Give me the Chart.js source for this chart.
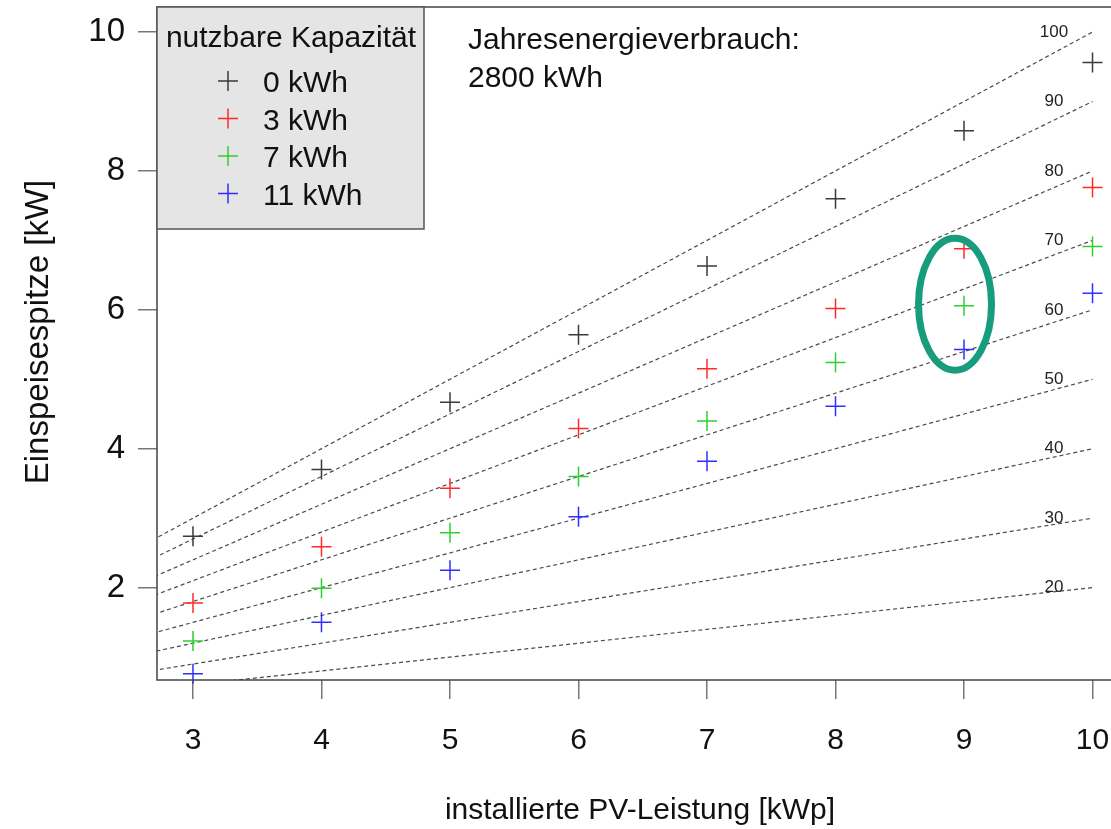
<!DOCTYPE html>
<html>
<head>
<meta charset="utf-8">
<script src="https://cdn.jsdelivr.net/npm/chart.js@4/dist/chart.umd.min.js"></script>
<style>
  html, body { margin: 0; padding: 0; background: #ffffff; overflow: hidden; }
  #wrap { width: 1111px; height: 829px; overflow: hidden; position: relative; }
  #box { width: 1140px; height: 829px; position: absolute; left: 0; top: 0; }
</style>
</head>
<body>
<div id="wrap"><div id="box"><canvas id="c"></canvas></div></div>
<script>
// ---- data ----
const pvPower = [3, 4, 5, 6, 7, 8, 9, 10];             // installierte PV-Leistung [kWp]
const xTicks = [3, 4, 5, 6, 7, 8, 9, 10];
const yTicks = [2, 4, 6, 8, 10];
const seriesNames = ['0 kWh', '3 kWh', '7 kWh', '11 kWh'];
const peak0kWh  = [2.74, 3.70, 4.67, 5.64, 6.63, 7.60, 8.58, 9.56];
const peak3kWh  = [1.78, 2.59, 3.43, 4.29, 5.15, 6.02, 6.88, 7.76];
const peak7kWh  = [1.23, 1.99, 2.79, 3.60, 4.40, 5.24, 6.06, 6.91];
const peak11kWh = [0.76, 1.50, 2.25, 3.02, 3.82, 4.61, 5.43, 6.24];
const percentLines = [20, 30, 40, 50, 60, 70, 80, 90, 100];  // % of installed power
const legendTitle = 'nutzbare Kapazität';
const noteLines = ['Jahresenergieverbrauch:', '2800 kWh'];
const xTitle = 'installierte PV-Leistung [kWp]';
const yTitle = 'Einspeisespitze [kW]';

const seriesColors = ['#3a3a3a', '#ff2b2b', '#2fcf2f', '#2f2fff'];
const FONT = '"Liberation Sans", Arial, Helvetica, sans-serif';
const PLOT_TOP = 7;

const peakSeries = [peak0kWh, peak3kWh, peak7kWh, peak11kWh];

const scatterSets = peakSeries.map((arr, i) => ({
  label: seriesNames[i],
  data: pvPower.map((x, j) => ({ x: x, y: arr[j] })),
  showLine: false,
  pointStyle: 'cross',
  pointRadius: 10,
  pointHoverRadius: 10,
  borderColor: seriesColors[i],
  backgroundColor: seriesColors[i],
  borderWidth: 1.5,
  clip: false,
  order: 0
}));

const lineSets = percentLines.map(p => ({
  label: p + '%',
  data: [{ x: 0, y: 0 }, { x: 10, y: p / 10 }],
  showLine: true,
  pointRadius: 0,
  borderColor: '#4a4a4a',
  borderWidth: 1.2,
  borderDash: [4, 3],
  fill: false,
  order: 1
}));

const fixTop = {
  id: 'fixTop',
  afterLayout(chart) {
    const a = chart.chartArea;
    const ys = chart.scales.y;
    a.top = PLOT_TOP;
    a.height = a.bottom - a.top;
    ys.top = PLOT_TOP;
    ys.height = ys.bottom - ys.top;
    ys.configure();
  }
};

const decor = {
  id: 'decor',
  afterDatasetsDraw(chart) {
    const ctx = chart.ctx;
    const a = chart.chartArea;
    const xs = chart.scales.x, ys = chart.scales.y;
    ctx.save();

    // percent labels
    ctx.fillStyle = '#222';
    ctx.font = '17px ' + FONT;
    ctx.textAlign = 'center';
    ctx.textBaseline = 'middle';
    percentLines.forEach(p => {
      ctx.fillText(String(p), xs.getPixelForValue(9.7), ys.getPixelForValue(p / 10));
    });

    // frame
    ctx.strokeStyle = '#444';
    ctx.lineWidth = 1.5;
    ctx.strokeRect(a.left, a.top, a.right - a.left, a.bottom - a.top);

    // legend box
    const lx = a.left, ly = a.top, lw = 267, lh = 222;
    ctx.fillStyle = '#e5e5e5';
    ctx.fillRect(lx, ly, lw, lh);
    ctx.strokeStyle = '#555';
    ctx.lineWidth = 1.5;
    ctx.strokeRect(lx, ly, lw, lh);
    ctx.fillStyle = '#111';
    ctx.font = '30px ' + FONT;
    ctx.textAlign = 'center';
    ctx.textBaseline = 'alphabetic';
    ctx.fillText(legendTitle, lx + 134, ly + 40);
    ctx.textAlign = 'left';
    seriesNames.forEach((name, i) => {
      const by = ly + 85 + i * 37.5;
      const cy = by - 11;
      const cx = lx + 71;
      ctx.strokeStyle = seriesColors[i];
      ctx.lineWidth = 1.5;
      ctx.beginPath();
      ctx.moveTo(cx - 10, cy); ctx.lineTo(cx + 10, cy);
      ctx.moveTo(cx, cy - 10); ctx.lineTo(cx, cy + 10);
      ctx.stroke();
      ctx.fillStyle = '#111';
      ctx.fillText(name, lx + 106, by);
    });

    // note text
    ctx.fillStyle = '#111';
    ctx.font = '30px ' + FONT;
    ctx.textAlign = 'left';
    ctx.textBaseline = 'alphabetic';
    const nx = xs.getPixelForValue(5.14);
    const ny = ys.getPixelForValue(9.75);
    noteLines.forEach((t, i) => ctx.fillText(t, nx, ny + i * 38));

    // highlight ellipse (data coordinates)
    const ecx = 8.93, ecy = 6.08, erx = 0.284, ery = 0.95;
    const ex = xs.getPixelForValue(ecx), ey = ys.getPixelForValue(ecy);
    const rx = Math.abs(xs.getPixelForValue(ecx + erx) - ex);
    const ry = Math.abs(ys.getPixelForValue(ecy + ery) - ey);
    ctx.strokeStyle = '#179c7d';
    ctx.lineWidth = 7;
    ctx.beginPath();
    ctx.ellipse(ex, ey, rx, ry, 0, 0, Math.PI * 2);
    ctx.stroke();

    // axis titles
    ctx.fillStyle = '#111';
    ctx.font = '30px ' + FONT;
    ctx.textAlign = 'center';
    ctx.textBaseline = 'alphabetic';
    ctx.fillText(xTitle, 640, 819);
    ctx.font = '33px ' + FONT;
    ctx.translate(48, 332);
    ctx.rotate(-Math.PI / 2);
    ctx.fillText(yTitle, 0, 0);
    ctx.restore();
  }
};

new Chart(document.getElementById('c'), {
  type: 'scatter',
  data: { datasets: [...lineSets, ...scatterSets] },
  options: {
    responsive: true,
    maintainAspectRatio: false,
    animation: false,
    events: [],
    layout: { padding: { left: 0, top: 7, right: 11, bottom: 0 } },
    plugins: { legend: { display: false }, tooltip: { enabled: false }, title: { display: false } },
    scales: {
      x: {
        type: 'linear',
        min: 2.72,
        max: 10.28,
        afterBuildTicks: s => { s.ticks = xTicks.map(v => ({ value: v })); },
        afterFit: s => { s.height = 149; s.paddingLeft = 0; s.paddingRight = 0; },
        border: { display: false },
        grid: { drawOnChartArea: false, drawTicks: true, tickLength: 19, tickColor: '#777', lineWidth: 1.5 },
        ticks: { color: '#111', font: { family: FONT, size: 30 }, padding: 24, maxRotation: 0, autoSkip: false }
      },
      y: {
        type: 'linear',
        min: 0.67,
        max: 10.36,
        afterBuildTicks: s => { s.ticks = yTicks.map(v => ({ value: v })); },
        afterFit: s => { s.width = 157; s.paddingTop = 0; s.paddingBottom = 0; },
        border: { display: false },
        grid: { drawOnChartArea: false, drawTicks: true, tickLength: 19, tickColor: '#777', lineWidth: 1.5 },
        ticks: { color: '#111', font: { family: FONT, size: 33 }, padding: 13, autoSkip: false }
      }
    }
  },
  plugins: [fixTop, decor]
});
</script>
</body>
</html>
